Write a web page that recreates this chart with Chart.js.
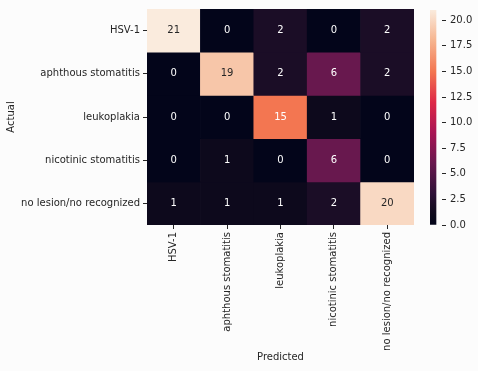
<!DOCTYPE html>
<html>
<head>
<meta charset="utf-8">
<script src="https://cdn.jsdelivr.net/npm/chart.js@4"></script>
<style>
  body { margin: 0; background: #fcfcfc; }
  #wrap { position: relative; width: 478px; height: 371px; }
  #wrap canvas { position: absolute; left: 0; top: 0; }
</style>
</head>
<body>
<div id="wrap">
  <canvas id="heat" width="478" height="371"></canvas>
  <canvas id="cbar" width="478" height="371"></canvas>
</div>
<script>
// klasser
const actualLabels = ['HSV-1', 'aphthous stomatitis', 'leukoplakia', 'nicotinic stomatitis', 'no lesion/no recognized'];
const predictedLabels = ['HSV-1', 'aphthous stomatitis', 'leukoplakia', 'nicotinic stomatitis', 'no lesion/no recognized'];

// en rad per faktisk klasse
const rowHSV = [21, 0, 2, 0, 2];
const rowAphthous = [0, 19, 2, 6, 2];
const rowLeuko = [0, 0, 15, 1, 0];
const rowNicotinic = [0, 1, 0, 6, 0];
const rowNoLesion = [1, 1, 1, 2, 20];
const rows = [rowHSV, rowAphthous, rowLeuko, rowNicotinic, rowNoLesion];

const vmin = 0;
const vmax = 21;
const cbTicks = [0, 2.5, 5, 7.5, 10, 12.5, 15, 17.5, 20];

// rocket fargekart (omtrentlig)
const rocket = [
  [0.0, [3, 5, 26]],
  [0.048, [13, 9, 28]],
  [0.095, [27, 13, 38]],
  [0.143, [45, 17, 55]],
  [0.286, [104, 24, 78]],
  [0.429, [168, 20, 84]],
  [0.571, [222, 40, 70]],
  [0.714, [243, 118, 81]],
  [0.857, [246, 180, 143]],
  [1.0, [250, 235, 221]]
];

function rocketRgb(t) {
  t = Math.max(0, Math.min(1, t));
  for (let i = 1; i < rocket.length; i++) {
    if (t <= rocket[i][0]) {
      const [t0, c0] = rocket[i - 1];
      const [t1, c1] = rocket[i];
      const f = (t - t0) / (t1 - t0);
      return c0.map((c, k) => Math.round(c + (c1[k] - c) * f));
    }
  }
  return rocket[rocket.length - 1][1];
}

function colorFor(v) {
  const c = rocketRgb((v - vmin) / (vmax - vmin));
  return `rgb(${c[0]}, ${c[1]}, ${c[2]})`;
}

// som seaborn: lys celle gir mørk tekst
function textColorFor(v) {
  const c = rocketRgb((v - vmin) / (vmax - vmin)).map(x => {
    x = x / 255;
    return x <= 0.03928 ? x / 12.92 : Math.pow((x + 0.055) / 1.055, 2.4);
  });
  const lum = 0.2126 * c[0] + 0.7152 * c[1] + 0.0722 * c[2];
  return lum > 0.408 ? '#262626' : '#ffffff';
}

const font = { family: 'DejaVu Sans', size: 10 };
const ink = '#262626';

const datasets = rows.map((row, i) => ({
  label: actualLabels[i],
  data: row.map(() => [i, i + 1]),
  values: row,
  backgroundColor: row.map(colorFor),
  borderWidth: 0,
  borderSkipped: false,
  barPercentage: 1,
  categoryPercentage: 1,
  stack: 'cells'
}));

const annotPlugin = {
  id: 'annot',
  afterDatasetsDraw(chart) {
    const ctx = chart.ctx;
    ctx.save();
    ctx.font = '10px "DejaVu Sans"';
    ctx.textAlign = 'center';
    ctx.textBaseline = 'middle';
    chart.data.datasets.forEach((ds, i) => {
      chart.getDatasetMeta(i).data.forEach((el, j) => {
        const v = ds.values[j];
        ctx.fillStyle = textColorFor(v);
        ctx.fillText(String(v), el.x, (el.y + el.base) / 2);
      });
    });
    ctx.restore();
  }
};

new Chart(document.getElementById('heat'), {
  type: 'bar',
  data: { labels: predictedLabels, datasets: datasets },
  options: {
    responsive: false,
    animation: false,
    layout: { padding: { top: 8, right: 64, left: 0, bottom: 0 } },
    plugins: { legend: { display: false }, tooltip: { enabled: false } },
    scales: {
      x: {
        stacked: true,
        offset: true,
        grid: { display: true, drawOnChartArea: false, offset: false, tickLength: 4, color: ink },
        border: { display: false },
        ticks: { minRotation: 90, maxRotation: 90, autoSkip: false, padding: 3, color: ink, font: font },
        title: { display: true, text: 'Predicted', color: ink, font: font, padding: { top: 4, bottom: 8 } },
        afterFit(s) { s.height = 146; }
      },
      y: {
        stacked: false,
        min: 0,
        max: 5,
        reverse: true,
        grid: { display: true, drawOnChartArea: false, tickLength: 4, color: ink },
        border: { display: false },
        afterBuildTicks(s) { s.ticks = [0.5, 1.5, 2.5, 3.5, 4.5].map(v => ({ value: v })); },
        ticks: {
          padding: 3,
          color: ink,
          font: font,
          callback: v => actualLabels[Math.floor(v)]
        },
        title: { display: true, text: 'Actual', color: ink, font: font, padding: { top: 5, bottom: 4 } },
        afterFit(s) { s.width = 147; }
      }
    }
  },
  plugins: [annotPlugin]
});

// fargeskala
new Chart(document.getElementById('cbar'), {
  type: 'bar',
  data: {
    labels: [''],
    datasets: [{
      data: [[vmin, vmax]],
      borderWidth: 0,
      borderSkipped: false,
      barPercentage: 1,
      categoryPercentage: 1,
      backgroundColor(context) {
        const area = context.chart.chartArea;
        if (!area) return '#000';
        const g = context.chart.ctx.createLinearGradient(0, area.bottom, 0, area.top);
        rocket.forEach(([t, c]) => g.addColorStop(t, `rgb(${c[0]}, ${c[1]}, ${c[2]})`));
        return g;
      }
    }]
  },
  options: {
    responsive: false,
    animation: false,
    layout: { padding: { top: 8, left: 430, right: 0, bottom: 146 } },
    plugins: { legend: { display: false }, tooltip: { enabled: false } },
    scales: {
      x: { display: false, offset: false },
      y: {
        position: 'right',
        min: vmin,
        max: vmax,
        grid: { display: true, drawOnChartArea: false, tickLength: 4, color: ink },
        border: { display: false },
        afterBuildTicks(s) { s.ticks = cbTicks.map(v => ({ value: v })); },
        ticks: { padding: 4, color: ink, font: font, callback: v => v.toFixed(1) },
        afterFit(s) { s.width = 36; }
      }
    }
  }
});
</script>
</body>
</html>
